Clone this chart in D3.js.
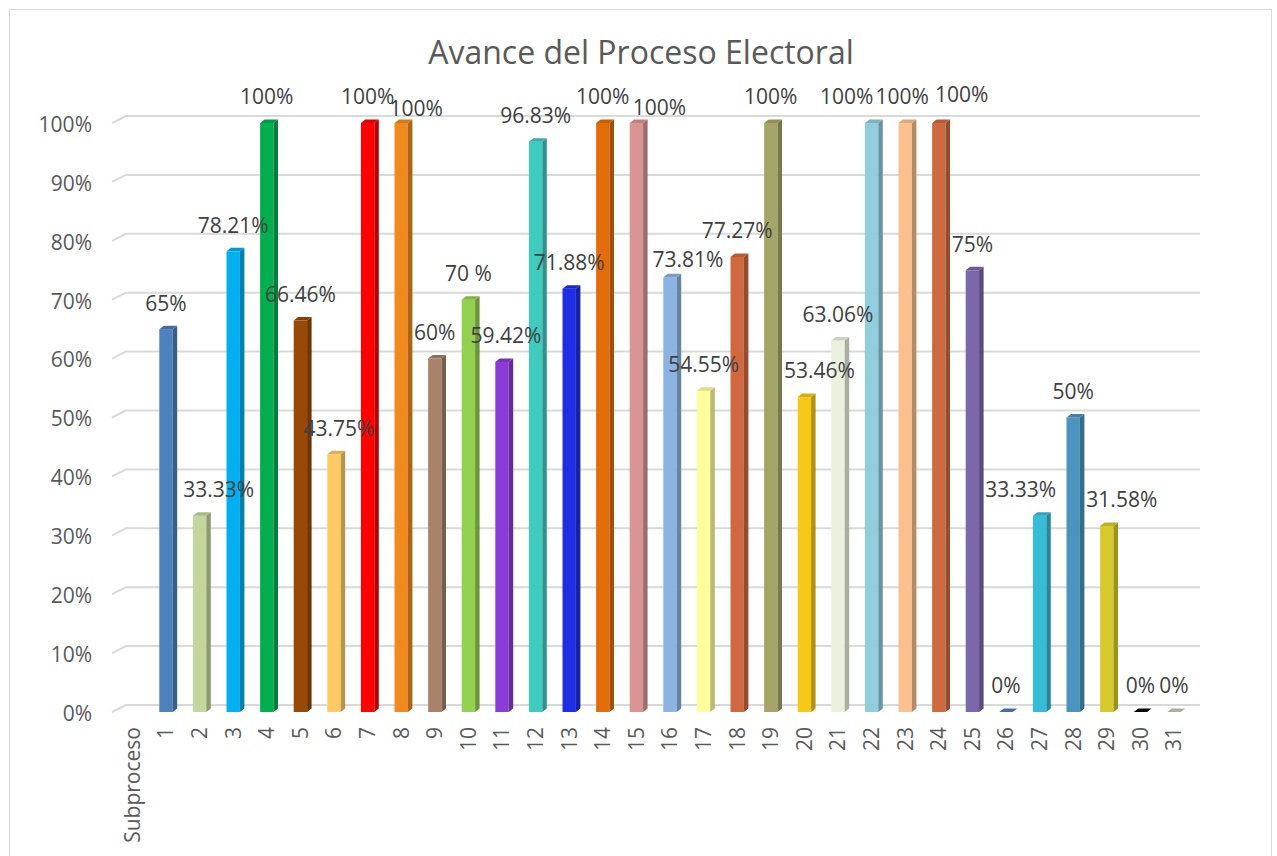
<!DOCTYPE html>
<html>
<head>
<meta charset="utf-8">
<script src="https://cdn.jsdelivr.net/npm/d3@7.9.0/dist/d3.min.js"></script>
<style>
  body { margin: 0; background: #fff; }
  svg { display: block; font-family: "Open Sans", sans-serif; }
</style>
</head>
<body>
<svg id="chart" width="1277" height="856"></svg>
<script>
// data
const subprocesos = d3.range(1, 32).map(String);
const avance = [65, 33.33, 78.21, 100, 66.46, 43.75, 100, 100, 60, 70, 59.42, 96.83, 71.88, 100, 100,
                73.81, 54.55, 77.27, 100, 53.46, 63.06, 100, 100, 100, 75, 0, 33.33, 50, 31.58, 0, 0];
const etiquetas = ["65%", "33.33%", "78.21%", "100%", "66.46%", "43.75%", "100%", "100%", "60%", "70 %",
                   "59.42%", "96.83%", "71.88%", "100%", "100%", "73.81%", "54.55%", "77.27%", "100%",
                   "53.46%", "63.06%", "100%", "100%", "100%", "75%", "0%", "33.33%", "50%", "31.58%", "0%", "0%"];
const colores = ["#4f81bd", "#c3d69b", "#00b0f0", "#00b050", "#984807", "#fdca63", "#ff0000", "#f08a1e",
                 "#a8826a", "#92d050", "#8b3bd6", "#40cbbf", "#1f2ee6", "#e46c0a", "#d99594", "#8db3e2",
                 "#ffff99", "#d0693f", "#a5a56a", "#f6c918", "#ebf1de", "#92cddc", "#fac090", "#cf6a40",
                 "#7b68ab", "#4f81bd", "#37bbd6", "#4b94c0", "#d6cb2a", "#000000", "#c4c8b8"];
const yTicks = d3.range(0, 101, 10);

// labels that were dragged by hand in the original (dx, dy)
const labelShift = {2: [19, 0], 6: [5, 0], 8: [15, 12], 11: [4, 0], 15: [23, 11], 16: [18, 8],
                    20: [15, 0], 22: [-25, 0], 23: [-3, 0], 24: [23, -2], 27: [-19, 0], 29: [15, 0]};

const svg = d3.select("#chart");
const depth = {dx: 4.5, dy: -3.5};
const wall = {dx: 14, dy: -7};

svg.append("rect")
    .attr("x", 9.5).attr("y", 9.5)
    .attr("width", 1262).attr("height", 860)
    .attr("fill", "#fff")
    .attr("stroke", "#d9d9d9");

const x = d3.scaleBand()
    .domain(["Subproceso", ...subprocesos])
    .range([115.6, 1190.8])
    .padding(0);

const y = d3.scaleLinear().domain([0, 100]).range([712, 123]);

// gridlines (back wall + floor edge)
const grid = svg.append("g");
yTicks.forEach(t => {
    grid.append("path")
        .attr("d", `M112,${y(t)} L${112 + wall.dx},${y(t) + wall.dy} L1200,${y(t) + wall.dy}`)
        .attr("fill", "none")
        .attr("stroke", "#d9d9d9")
        .attr("stroke-width", 2);
});

// y axis labels
svg.append("g")
    .selectAll("text")
    .data(yTicks)
    .join("text")
    .attr("x", 92)
    .attr("y", d => y(d) + 1.5)
    .attr("dy", "0.35em")
    .attr("text-anchor", "end")
    .attr("font-size", 21)
    .attr("fill", "#595959")
    .text(d => d + "%");

// x axis labels
svg.append("g")
    .selectAll("text")
    .data(x.domain())
    .join("text")
    .attr("transform", d => `translate(${x(d) + x.bandwidth() / 2},727) rotate(-90)`)
    .attr("dy", "0.35em")
    .attr("text-anchor", "end")
    .attr("font-size", 21)
    .attr("fill", "#595959")
    .text(d => d);

// 3d-ish bars
const bw = 13.4;
const rows = avance.map((v, i) => ({v, cat: subprocesos[i], i}));
const bars = svg.append("g")
    .selectAll("g")
    .data(rows)
    .join("g");

bars.each(function(d) {
    const g = d3.select(this);
    const c = d3.color(colores[d.i]);
    const x0 = x(d.cat) + x.bandwidth() / 2 - bw / 2;
    const x1 = x0 + bw;
    const top = y(d.v);
    const bot = y(0);
    if (d.v > 0) {
        g.append("rect")
            .attr("x", x0).attr("y", top)
            .attr("width", bw).attr("height", bot - top)
            .attr("fill", c.formatHex());
        g.append("path")
            .attr("d", `M${x1},${top} L${x1 + depth.dx},${top + depth.dy} L${x1 + depth.dx},${bot + depth.dy} L${x1},${bot}Z`)
            .attr("fill", c.darker(0.9).formatHex());
    }
    g.append("path")
        .attr("d", `M${x0},${top} L${x0 + depth.dx},${top + depth.dy} L${x1 + depth.dx},${top + depth.dy} L${x1},${top}Z`)
        .attr("fill", c.darker(0.4).formatHex());
});

// data labels, drawn over all the bars
svg.append("g")
    .selectAll("text")
    .data(rows)
    .join("text")
    .attr("x", d => x(d.cat) + x.bandwidth() / 2 + (labelShift[d.i + 1] ? labelShift[d.i + 1][0] : 0))
    .attr("y", d => y(d.v) - 26 + (labelShift[d.i + 1] ? labelShift[d.i + 1][1] : 0))
    .attr("dy", "0.35em")
    .attr("text-anchor", "middle")
    .attr("font-size", 21)
    .attr("fill", "#404040")
    .text(d => etiquetas[d.i]);

// title
svg.append("text")
    .attr("x", 641)
    .attr("y", 53)
    .attr("dy", "0.35em")
    .attr("text-anchor", "middle")
    .attr("font-size", 32)
    .attr("fill", "#595959")
    .text("Avance del Proceso Electoral");
</script>
</body>
</html>
